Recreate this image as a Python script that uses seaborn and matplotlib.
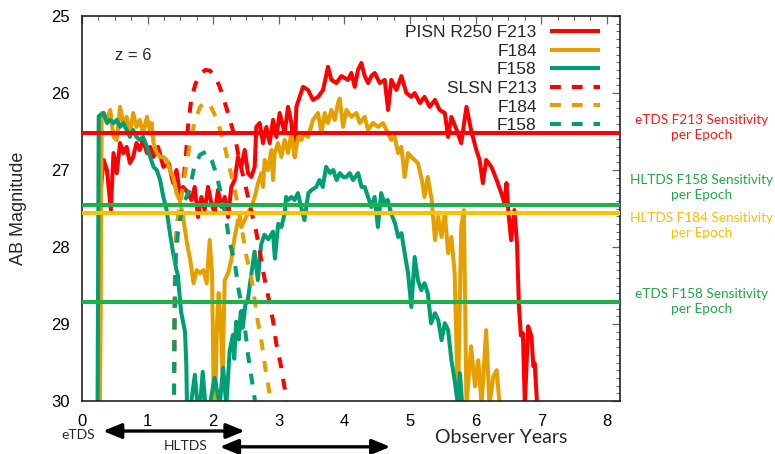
import matplotlib
matplotlib.use("Agg")
import matplotlib.pyplot as plt
import seaborn as sns
from matplotlib.ticker import MultipleLocator

# ---------------- data ----------------
pisn_f213_x = [0.27, 0.285, 0.33, 0.38, 0.44, 0.48, 0.53, 0.58, 0.63, 0.68, 0.73, 0.78, 0.83, 0.88,
               0.93, 0.99, 1.04, 1.09, 1.16, 1.24, 1.32, 1.39, 1.44, 1.49, 1.54, 1.616, 1.667, 1.718,
               1.768, 1.819, 1.870, 1.921, 1.971, 2.022, 2.073, 2.124, 2.175, 2.226, 2.276, 2.327,
               2.378, 2.429, 2.480, 2.530, 2.581, 2.632, 2.657, 2.708, 2.759, 2.810, 2.861, 2.912,
               2.962, 3.013, 3.089, 3.140, 3.191, 3.242, 3.267, 3.318, 3.369, 3.445, 3.521, 3.598,
               3.674, 3.750, 3.801, 3.877, 3.953, 4.055, 4.106, 4.157, 4.207, 4.258, 4.309, 4.360,
               4.411, 4.461, 4.538, 4.614, 4.665, 4.715, 4.792, 4.868, 4.944, 5.020, 5.07, 5.15,
               5.22, 5.30, 5.38, 5.45, 5.53, 5.58, 5.63, 5.71, 5.78, 5.86, 5.93, 6.01, 6.06, 6.11,
               6.16, 6.24, 6.32, 6.39, 6.44, 6.47, 6.50, 6.54, 6.59, 6.63, 6.66, 6.69, 6.72, 6.75,
               6.80, 6.85, 6.88, 6.90, 6.94]
pisn_f213_y = [30.5, 27.26, 26.87, 27.00, 27.52, 26.78, 27.04, 26.65, 26.78, 26.70, 26.91, 26.83,
               26.65, 26.74, 26.61, 26.78, 26.70, 26.83, 26.70, 26.96, 26.91, 27.17, 27.00, 27.30,
               27.22, 27.30, 27.39, 27.22, 27.61, 27.35, 27.52, 27.22, 27.43, 27.56, 27.26, 27.48,
               27.35, 27.61, 27.22, 27.13, 26.83, 26.96, 26.74, 27.04, 27.09, 26.96, 26.44, 26.39,
               26.65, 26.44, 26.65, 26.35, 26.57, 26.26, 26.52, 26.18, 26.39, 26.83, 26.18, 26.05,
               25.92, 25.96, 26.09, 26.05, 25.96, 25.66, 25.83, 25.87, 25.78, 25.83, 25.74, 25.92,
               25.70, 25.61, 25.78, 25.87, 25.78, 25.74, 25.87, 25.83, 26.22, 25.83, 25.96, 25.78,
               26.00, 26.05, 26.00, 26.13, 26.05, 26.18, 26.09, 26.22, 26.26, 26.57, 26.31, 26.48,
               26.65, 26.18, 26.48, 26.74, 26.87, 27.17, 26.87, 26.96, 27.13, 27.30, 27.43, 27.17,
               27.56, 27.91, 27.52, 27.95, 28.78, 29.15, 29.12, 30.05, 29.03, 29.16, 29.55, 29.51,
               30.10]

pisn_f184_x = [0.27, 0.30, 0.33, 0.38, 0.43, 0.48, 0.53, 0.58, 0.63, 0.68, 0.73, 0.78, 0.83, 0.88,
               0.93, 0.99, 1.04, 1.06, 1.09, 1.14, 1.19, 1.24, 1.29, 1.34, 1.39, 1.44, 1.49, 1.54,
               1.60, 1.65, 1.70, 1.75, 1.80, 1.85, 1.90, 1.946, 1.982, 2.007, 2.032, 2.058, 2.083,
               2.114, 2.144, 2.175, 2.226, 2.276, 2.327, 2.378, 2.429, 2.480, 2.530, 2.581, 2.632,
               2.683, 2.734, 2.759, 2.784, 2.835, 2.886, 2.912, 2.937, 2.988, 3.038, 3.089, 3.140,
               3.191, 3.242, 3.293, 3.343, 3.394, 3.445, 3.521, 3.598, 3.649, 3.699, 3.750, 3.801,
               3.852, 3.902, 3.928, 3.979, 4.030, 4.106, 4.182, 4.233, 4.309, 4.360, 4.436, 4.512,
               4.588, 4.639, 4.715, 4.766, 4.817, 4.868, 4.918, 4.969, 5.020, 5.070, 5.12, 5.18,
               5.22, 5.27, 5.33, 5.38, 5.43, 5.48, 5.53, 5.58, 5.63, 5.68, 5.73, 5.78, 5.82, 5.86,
               5.93, 5.99, 6.04, 6.09, 6.16, 6.21, 6.27, 6.32, 6.37]
pisn_f184_y = [30.5, 26.26, 26.26, 26.35, 26.22, 26.57, 26.61, 26.18, 26.39, 26.31, 26.52, 26.26,
               26.44, 26.35, 26.52, 26.31, 26.52, 26.39, 26.65, 26.78, 26.83, 26.83, 26.87, 27.00,
               27.09, 27.30, 27.39, 27.61, 27.95, 28.17, 28.47, 28.30, 28.34, 28.30, 28.47, 27.91,
               28.34, 29.90, 29.99, 28.99, 28.60, 28.99, 29.64, 28.43, 28.34, 28.17, 27.87, 27.65,
               27.74, 27.65, 27.56, 27.48, 27.35, 27.17, 27.04, 27.22, 26.87, 27.00, 26.74, 27.13,
               26.78, 26.65, 26.83, 26.61, 26.78, 26.52, 26.83, 26.57, 26.61, 26.52, 26.57, 26.35,
               26.26, 26.52, 26.26, 26.39, 26.22, 26.35, 26.13, 26.07, 26.44, 26.22, 26.31, 26.26,
               26.39, 26.31, 26.48, 26.39, 26.44, 26.39, 26.48, 26.61, 26.57, 26.78, 26.70, 27.09,
               26.78, 26.83, 26.87, 26.91, 27.13, 27.35, 27.09, 27.39, 27.91, 27.61, 27.87, 27.56,
               28.08, 27.87, 28.34, 30.05, 27.74, 27.52, 30.05, 29.29, 29.81, 29.47, 30.05, 29.08,
               30.05, 29.68, 29.60, 30.10]

pisn_f158_x = [0.235, 0.255, 0.33, 0.38, 0.43, 0.48, 0.53, 0.58, 0.63, 0.68, 0.73, 0.78, 0.83,
               0.88, 0.93, 0.99, 1.04, 1.09, 1.14, 1.19, 1.24, 1.29, 1.34, 1.39, 1.44, 1.46, 1.51,
               1.57, 1.59, 1.60, 1.66, 1.72, 1.76, 1.80, 1.84, 1.88, 1.95, 2.02, 2.10, 2.15, 2.20,
               2.25, 2.30, 2.32, 2.35, 2.39, 2.42, 2.45, 2.49, 2.53, 2.58, 2.63, 2.68, 2.73, 2.78,
               2.84, 2.91, 2.94, 2.99, 3.04, 3.09, 3.11, 3.14, 3.19, 3.24, 3.29, 3.34, 3.39, 3.45,
               3.50, 3.57, 3.62, 3.67, 3.72, 3.78, 3.83, 3.88, 3.93, 3.98, 4.03, 4.08, 4.13, 4.21,
               4.26, 4.31, 4.36, 4.41, 4.46, 4.51, 4.56, 4.61, 4.66, 4.71, 4.77, 4.82, 4.87, 4.92,
               4.97, 5.02, 5.07, 5.12, 5.17, 5.22, 5.27, 5.32, 5.38, 5.43, 5.48, 5.53, 5.58, 5.63,
               5.68, 5.73, 5.76, 5.80]
pisn_f158_y = [30.5, 26.30, 26.26, 26.39, 26.35, 26.39, 26.35, 26.44, 26.39, 26.48, 26.57, 26.48,
               26.57, 26.61, 26.57, 26.70, 26.83, 26.96, 27.00, 27.13, 27.35, 27.52, 27.82, 28.08,
               28.30, 28.36, 28.84, 29.10, 29.53, 30.05, 30.05, 29.66, 30.05, 30.05, 29.62, 30.05,
               30.05, 29.70, 30.05, 29.57, 30.05, 29.36, 29.14, 29.45, 28.97, 29.20, 28.84, 29.05,
               28.75, 28.67, 28.36, 28.06, 28.43, 27.97, 27.84, 27.90, 27.80, 28.15, 27.70, 27.74,
               27.56, 27.35, 27.39, 27.35, 27.39, 27.30, 27.48, 27.65, 27.30, 27.26, 27.22, 27.13,
               27.22, 26.96, 27.04, 27.00, 27.13, 27.04, 27.09, 27.09, 27.04, 27.13, 27.04, 27.22,
               27.22, 27.35, 27.48, 27.35, 27.74, 27.30, 27.43, 27.39, 27.56, 27.69, 27.87, 27.82,
               28.09, 28.34, 28.78, 28.13, 28.43, 28.56, 28.47, 28.60, 28.99, 28.86, 28.95, 29.21,
               28.99, 29.08, 29.47, 29.73, 30.05, 29.64, 30.10]

slsn_f213_x = [1.40, 1.41, 1.42, 1.45, 1.50, 1.55, 1.58, 1.62, 1.667, 1.73, 1.80, 1.88, 1.95, 2.02,
               2.09, 2.15, 2.25, 2.34, 2.40, 2.49, 2.57, 2.65, 2.71, 2.77, 2.84, 2.91, 2.96, 3.03,
               3.09, 3.13]
slsn_f213_y = [30.2, 29.0, 28.1, 27.7, 27.4, 27.1, 26.85, 26.40, 26.07, 25.88, 25.76, 25.70, 25.71,
               25.78, 25.90, 26.05, 26.33, 26.61, 26.88, 27.20, 27.50, 27.78, 28.06, 28.36, 28.65,
               28.95, 29.25, 29.53, 29.84, 30.10]

slsn_f184_x = [1.40, 1.41, 1.42, 1.45, 1.50, 1.55, 1.59, 1.64, 1.72, 1.80, 1.87, 1.95, 2.06, 2.16,
               2.23, 2.32, 2.41, 2.50, 2.58, 2.63, 2.68, 2.74, 2.79, 2.85, 2.88]
slsn_f184_y = [30.2, 29.0, 28.1, 27.7, 27.4, 27.15, 26.95, 26.67, 26.37, 26.18, 26.12, 26.15, 26.35,
               26.63, 26.91, 27.21, 27.62, 28.10, 28.39, 28.68, 28.97, 29.25, 29.55, 29.86, 30.10]

slsn_f158_x = [1.40, 1.41, 1.43, 1.47, 1.54, 1.64, 1.71, 1.80, 1.90, 1.98, 2.05, 2.13, 2.19, 2.25,
               2.33, 2.38, 2.44, 2.49, 2.53, 2.58, 2.63, 2.65]
slsn_f158_y = [30.2, 29.0, 28.1, 27.75, 27.45, 27.26, 26.96, 26.80, 26.76, 26.88, 27.06, 27.35,
               27.62, 27.93, 28.21, 28.52, 28.80, 29.10, 29.40, 29.68, 29.96, 30.10]

legend_labels = ["PISN R250 F213", "F184", "F158", "SLSN F213", "F184", "F158"]

sens_levels = [26.515, 27.455, 27.555, 28.714]
sens_labels = ["eTDS F213 Sensitivity\nper Epoch", "HLTDS F158 Sensitivity\nper Epoch",
               "HLTDS F184 Sensitivity\nper Epoch", "eTDS F158 Sensitivity\nper Epoch"]
sens_label_y = [26.45, 27.23, 27.72, 28.71]

survey_names = ["eTDS", "HLTDS"]
survey_start = [0.32, 2.10]
survey_end = [2.48, 4.70]

x_ticks = [0, 1, 2, 3, 4, 5, 6, 7, 8]
y_ticks = [25, 26, 27, 28, 29, 30]

# ---------------- style ----------------
sns.set_style("white")
plt.rcParams["font.family"] = ["Liberation Sans", "DejaVu Sans"]

RED, ORANGE, GREEN = "#ff0000", "#e69f00", "#009e73"
SENS_COLORS = ["#ff0000", "#1fb04b", "#ffc000", "#1fb04b"]
SENS_TEXT_COLORS = ["#ff1a1a", "#22a846", "#ffbf00", "#22a846"]
LW = 2.9
DASH = (0, (2.7, 2.7))

fig = plt.figure(figsize=(7.75, 4.54), dpi=100)
ax = fig.add_axes([82 / 775, 1 - 401 / 454, 538 / 775, 385 / 454])

series = [
    (pisn_f213_x, pisn_f213_y, RED, "-"),
    (pisn_f184_x, pisn_f184_y, ORANGE, "-"),
    (pisn_f158_x, pisn_f158_y, GREEN, "-"),
    (slsn_f213_x, slsn_f213_y, RED, DASH),
    (slsn_f184_x, slsn_f184_y, ORANGE, DASH),
    (slsn_f158_x, slsn_f158_y, GREEN, DASH),
]
handles = []
for (xs, ys, col, ls), lab in zip(series, legend_labels):
    sns.lineplot(x=xs, y=ys, ax=ax, color=col, lw=LW, linestyle=ls, sort=False,
                 estimator=None, label=lab)
    ln = ax.lines[-1]
    ln.set_solid_capstyle("butt")
    ln.set_dash_capstyle("butt")
    handles.append(ln)

for lvl, col in zip(sens_levels, SENS_COLORS):
    ax.axhline(lvl, color=col, lw=LW, zorder=3)

ax.set_xlim(0, 8.2)
ax.set_ylim(30, 25)
ax.xaxis.set_major_locator(MultipleLocator(1))
ax.xaxis.set_minor_locator(MultipleLocator(0.25))
ax.yaxis.set_major_locator(MultipleLocator(1))
ax.yaxis.set_minor_locator(MultipleLocator(0.1))
ax.set_xticks(x_ticks)
ax.set_yticks(y_ticks)
ax.tick_params(which="both", direction="in", top=True, right=True, color="#666666",
               labelcolor="black", labelsize=12)
ax.tick_params(which="major", length=6, width=0.9)
ax.tick_params(which="minor", length=3, width=0.8)
ax.tick_params(axis="x", which="major", pad=9)
ax.tick_params(axis="y", which="major", pad=8.5)
for sp in ax.spines.values():
    sp.set_color("#222222")
    sp.set_linewidth(1.2)

ax.set_ylabel("AB Magnitude", fontsize=13)
ax.yaxis.set_label_coords(-0.102, 0.5)
ax.set_xlabel("")

ax.text(0.78, 25.51, "z = 6", ha="center", va="center", fontsize=12)

leg = ax.legend(handles, legend_labels, loc="upper right", bbox_to_anchor=(0.963, 0.977),
                markerfirst=False, frameon=False, handlelength=2.9, handletextpad=0.75,
                labelspacing=0.2, borderpad=0, borderaxespad=0, fontsize=12.5)

# right-side sensitivity annotations
ytrans = ax.get_yaxis_transform()
for txt, yy, col in zip(sens_labels, sens_label_y, SENS_TEXT_COLORS):
    ax.text(1.152, yy, txt, transform=ytrans, ha="center", va="center", color=col,
            fontsize=9.8, family=["Lato", "DejaVu Sans"], linespacing=1.3, clip_on=False)

# survey windows below the axis
xtrans = ax.get_xaxis_transform()
arrow_y = [-0.078, -0.119]
name_y = [-0.088, -0.118]
name_x = [-0.06, 1.585]
for nm, x0, x1, yy, nx, ny in zip(survey_names, survey_start, survey_end, arrow_y, name_x, name_y):
    ax.annotate("", xy=(x1, yy), xytext=(x0, yy), xycoords=xtrans, textcoords=xtrans,
                annotation_clip=False,
                arrowprops=dict(arrowstyle="<|-|>,head_length=1.1,head_width=0.45",
                                mutation_scale=10, lw=2.4, color="black",
                                shrinkA=0, shrinkB=0))
    ax.text(nx, ny, nm, transform=xtrans, ha="center", va="center", fontsize=10,
            family=["Lato", "DejaVu Sans"], clip_on=False)

ax.text(6.39, -0.096, "Observer Years", transform=xtrans, ha="center", va="center",
        fontsize=14, family=["Lato", "DejaVu Sans"], clip_on=False)

fig.savefig("out.png", dpi=100)
